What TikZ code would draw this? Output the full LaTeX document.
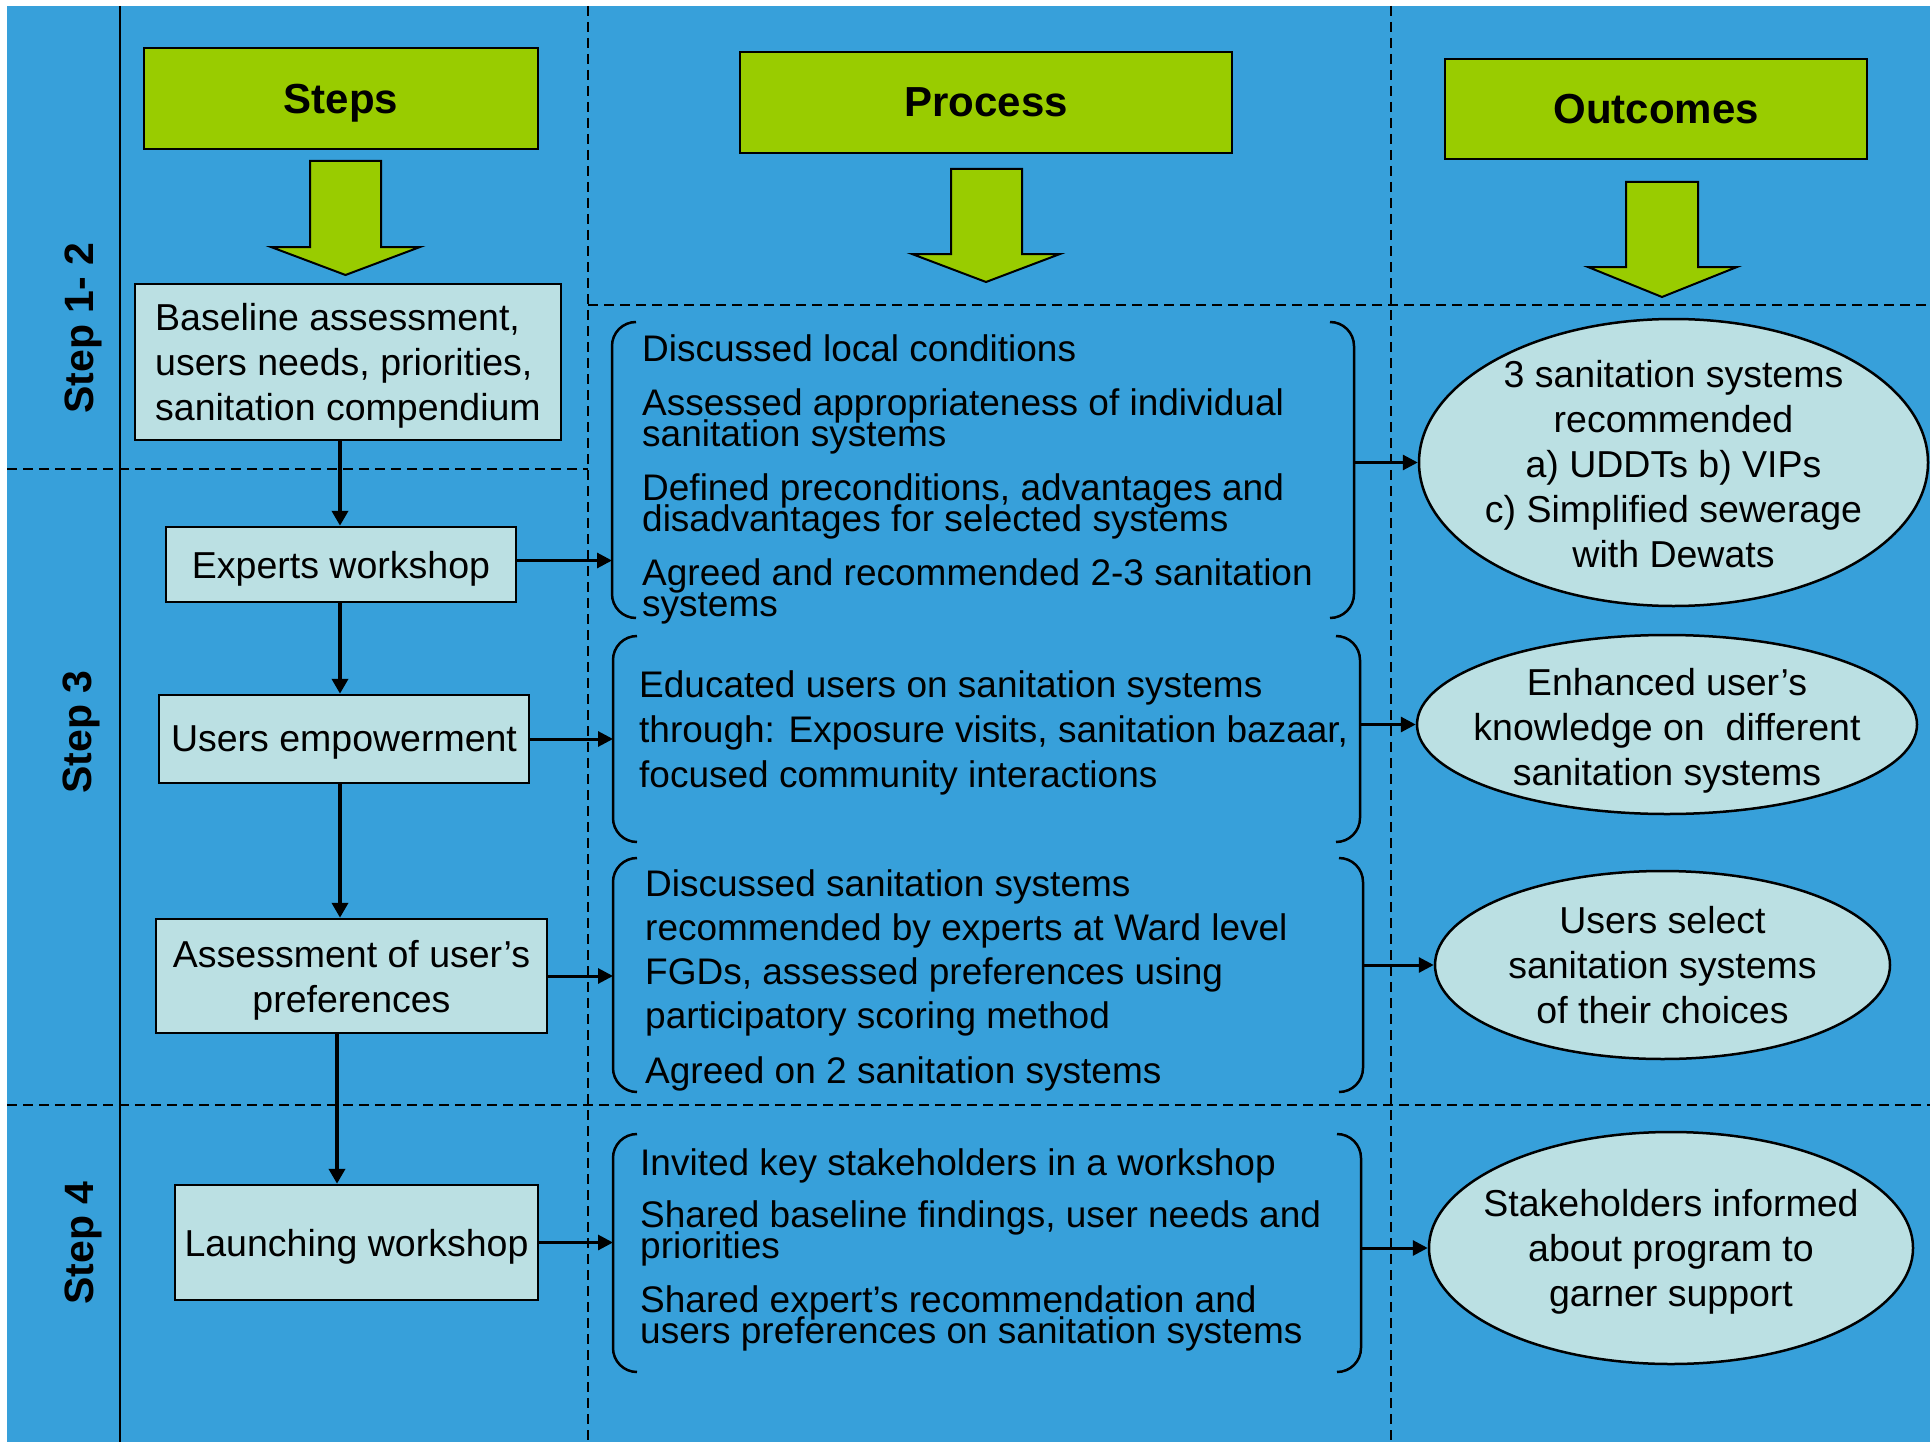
\documentclass[tikz,border=0pt]{standalone}
\usepackage{fontspec}
\setmainfont{Liberation Sans}
\usetikzlibrary{arrows.meta,shapes.geometric}
\definecolor{bgblue}{RGB}{55,160,218}
\definecolor{hgreen}{RGB}{153,204,0}
\definecolor{boxfill}{RGB}{187,224,227}
\newcommand\mytightlines{\lineskiplimit=-100pt\relax\lineskip=0pt\relax}
\begin{document}
\begin{tikzpicture}[x=1pt,y=-1pt,
  header/.style={draw=black,line width=2.5pt,fill=hgreen,font=\fontsize{42}{50}\selectfont\bfseries,inner sep=0pt,text depth=0pt},
  stepbox/.style={draw=black,line width=2.5pt,fill=boxfill,font=\fontsize{37.5}{45}\selectfont,inner sep=0pt,align=center,text depth=0pt},
  outc/.style={ellipse,draw=black,line width=2.5pt,fill=boxfill,inner sep=0pt},
  outtext/.style={font=\fontsize{37.5}{45}\selectfont,inner sep=0pt,align=center,text depth=0pt},
  parea/.style={inner sep=0pt,outer sep=0pt},
  ptext/.style={inner sep=0pt,anchor=west,align=left,font=\fontsize{37}{31}\selectfont\mytightlines,text depth=0pt},
  steplabel/.style={rotate=90,font=\fontsize{41}{49}\selectfont\bfseries,inner sep=0pt},
  gridline/.style={line width=2pt,dash pattern=on 10pt off 6pt},
  flow/.style={line width=4.5pt,-{Triangle[length=15pt,width=16pt]}},
  link/.style={line width=3pt,-{Triangle[length=15pt,width=15pt]}},
  bracket/.style={line width=2.5pt,rounded corners=24pt},
  bigarrow/.style={draw=black,line width=2pt,fill=hgreen,line join=miter}
]
\useasboundingbox (0,0) rectangle (1930,1442);
\fill[bgblue] (7,6) rectangle (1930,1442);

% grid lines
\draw[line width=2pt] (119.5,6) -- (119.5,1442);
\draw[gridline] (588,6) -- (588,1442);
\draw[gridline] (1391,6) -- (1391,1442);
\draw[gridline] (588,305) -- (1930,305);
\draw[gridline] (7,469) -- (588,469);
\draw[gridline] (7,1105) -- (1930,1105);

% step labels
\node[steplabel] (s12) at (83,328) {Step 1- 2};
\node[steplabel] (s3) at (81,732) {Step 3};
\node[steplabel] (s4) at (83,1243) {Step 4};

% headers
\node[header,minimum width=394pt,minimum height=101pt] (hsteps) at (341,98.5) {Steps};
\node[header,minimum width=492pt,minimum height=101pt] (hproc) at (986,102.5) {Process};
\node[header,minimum width=422pt,minimum height=100pt] (hout) at (1656,109) {Outcomes};

% big arrows
\draw[bigarrow] (310,161) -- (381,161) -- (381,247) -- (420,247) -- (345.5,275) -- (271,247) -- (310,247) -- cycle;
\draw[bigarrow] (951,169) -- (1022,169) -- (1022,254) -- (1060,254) -- (986,282) -- (912,254) -- (951,254) -- cycle;
\draw[bigarrow] (1626,182) -- (1698,182) -- (1698,267) -- (1737,267) -- (1662,297) -- (1588,267) -- (1626,267) -- cycle;

% step boxes
\node[stepbox,align=left,minimum width=426pt,minimum height=156pt] (baseline) at (348,362) {Baseline assessment,\\users needs, priorities,\\sanitation compendium};
\node[stepbox,minimum width=350pt,minimum height=75pt] (experts) at (341,564.5) {Experts workshop};
\node[stepbox,minimum width=370pt,minimum height=88pt] (users) at (344,739) {Users empowerment};
\node[stepbox,minimum width=391pt,minimum height=114pt] (assess) at (351.5,976) {Assessment of user’s\\preferences};
\node[stepbox,minimum width=363pt,minimum height=115pt] (launch) at (356.5,1242.5) {Launching workshop};

% process areas
\node[parea,minimum width=742pt,minimum height=296pt] (b1) at (983,470) {};
\node[parea,minimum width=747pt,minimum height=206pt] (b2) at (986.5,739) {};
\node[parea,minimum width=750pt,minimum height=234pt] (b3) at (988,975) {};
\node[parea,minimum width=748pt,minimum height=238pt] (b4) at (987,1253) {};
\foreach \b in {b1,b2,b3,b4}{
  \draw[bracket] ([xshift=24pt]\b.north west) -- (\b.north west) -- (\b.south west) -- ([xshift=24pt]\b.south west);
  \draw[bracket] ([xshift=-24pt]\b.north east) -- (\b.north east) -- (\b.south east) -- ([xshift=-24pt]\b.south east);
}

% process texts
\node[ptext] (p1a) at (642,348) {Discussed local conditions};
\node[ptext] (p1b) at (642,417.5) {Assessed appropriateness of individual\\sanitation systems};
\node[ptext] (p1c) at (642,503) {Defined preconditions, advantages and\\disadvantages for selected systems};
\node[ptext] (p1d) at (642,587.5) {Agreed and recommended 2-3 sanitation\\systems};
\node[ptext,font=\fontsize{37}{45}\selectfont] (p2) at (639,729) {Educated users on sanitation systems\\through: Exposure visits, sanitation bazaar,\\focused community interactions};
\node[ptext,font=\fontsize{37}{44}\selectfont] (p3a) at (645,949) {Discussed sanitation systems\\recommended by experts at Ward level\\FGDs, assessed preferences using\\participatory scoring method};
\node[ptext] (p3b) at (645,1070) {Agreed on 2 sanitation systems};
\node[ptext] (p4a) at (640,1162) {Invited key stakeholders in a workshop};
\node[ptext] (p4b) at (640,1230) {Shared baseline findings, user needs and\\priorities};
\node[ptext] (p4c) at (640,1315) {Shared expert’s recommendation and\\users preferences on sanitation systems};

% outcomes
\node[outc,minimum width=509pt,minimum height=287pt] (e1) at (1673.5,462.5) {};
\node[outc,minimum width=500pt,minimum height=179pt] (e2) at (1667,724.5) {};
\node[outc,minimum width=455pt,minimum height=188pt] (e3) at (1662.5,965) {};
\node[outc,minimum width=484pt,minimum height=232pt] (e4) at (1671,1248) {};
\node[outtext] (e1t) at ([yshift=-1pt]e1.center) {3 sanitation systems\\recommended\\a) UDDTs b) VIPs\\c) Simplified sewerage\\with Dewats};
\node[outtext] (e2t) at ([yshift=-2pt]e2.center) {Enhanced user’s\\knowledge on\ \ different\\sanitation systems};
\node[outtext] (e3t) at (e3.center) {Users select\\sanitation systems\\of their choices};
\node[outtext] (e4t) at (e4.center) {Stakeholders informed\\about program to\\garner support};

% connectors
\coordinate (ax) at (340,0);
\coordinate (ax2) at (337,0);
\draw[flow] (baseline.south -| ax) -- (experts.north -| ax);
\draw[flow] (experts.south -| ax) -- (users.north -| ax);
\draw[flow] (users.south -| ax) -- (assess.north -| ax);
\draw[flow] (assess.south -| ax2) -- (launch.north -| ax2);

\draw[link] ([yshift=4pt]experts.east) -- ([yshift=4pt]experts.east -| b1.west);
\draw[link] (users.east) -- (users.east -| b2.west);
\draw[link] (assess.east) -- (assess.east -| b3.west);
\draw[link] (launch.east) -- (launch.east -| b4.west);

\draw[link] (b1.east |- e1.west) -- (e1.west);
\draw[link] (b2.east |- e2.west) -- (e2.west);
\draw[link] (b3.east |- e3.west) -- (e3.west);
\draw[link] (b4.east |- e4.west) -- (e4.west);
\end{tikzpicture}
\end{document}
